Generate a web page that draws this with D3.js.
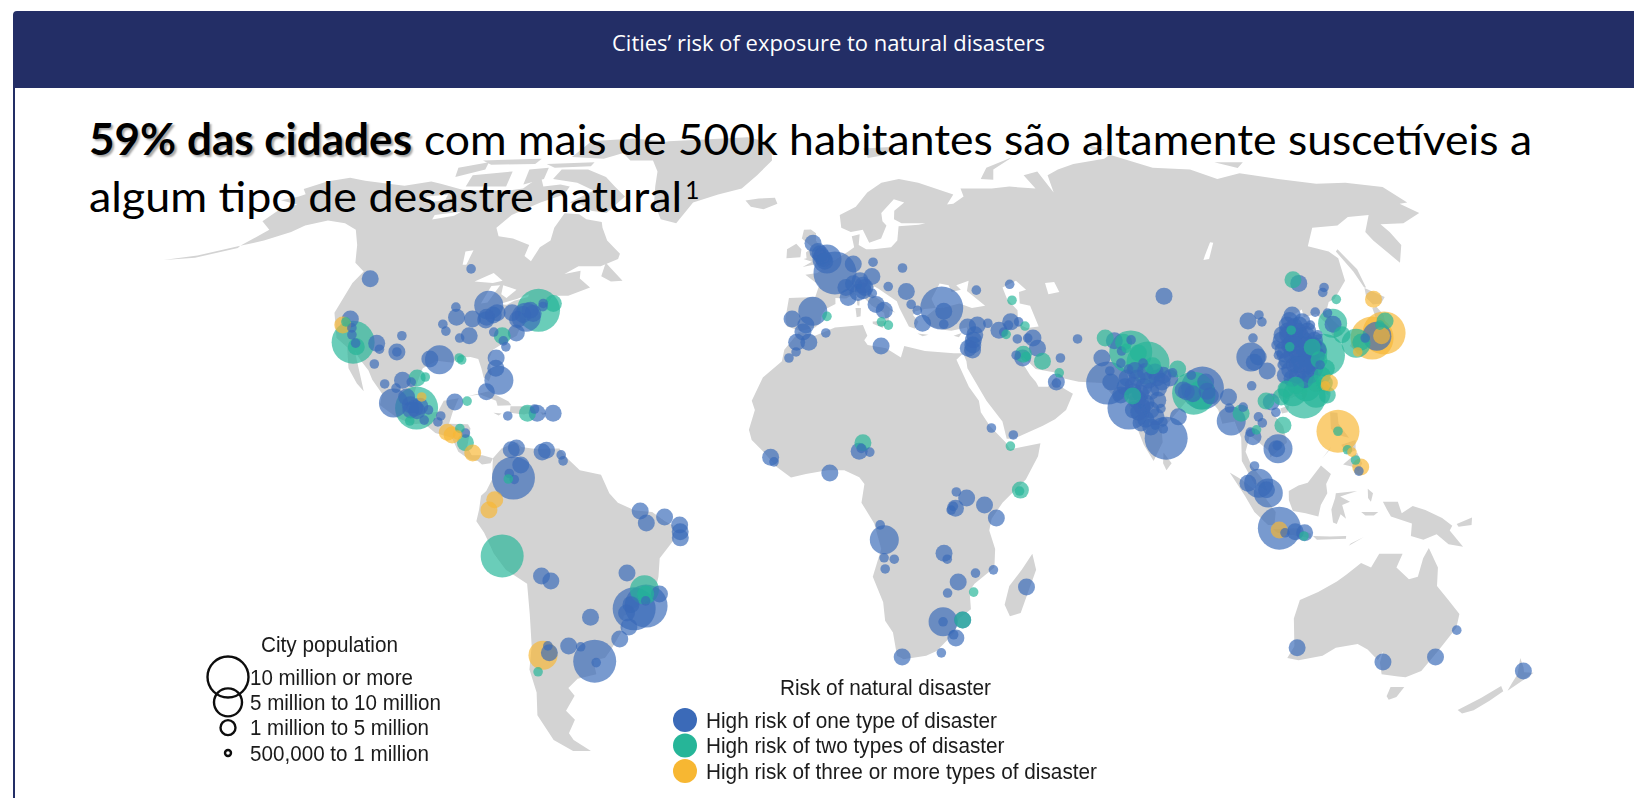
<!DOCTYPE html>
<html><head><meta charset="utf-8">
<script src="https://cdn.jsdelivr.net/npm/d3@7/dist/d3.min.js"></script>
<style>html,body{margin:0;padding:0;background:#fff;overflow:hidden}svg{display:block}</style>
</head><body><svg id="c" width="1634" height="798"></svg>
<script>
const chartTitle = "Cities’ risk of exposure to natural disasters";
const headlineBold = "59% das cidades";
const headlineRest = "com mais de 500k habitantes são altamente suscetíveis a";
const headlineLine2 = "algum tipo de desastre natural";
const sizeLegendTitle = "City population";
const sizeLabels = ["10 million or more","5 million to 10 million","1 million to 5 million","500,000 to 1 million"];
const riskLegendTitle = "Risk of natural disaster";
const riskLabels = ["High risk of one type of disaster","High risk of two types of disaster","High risk of three or more types of disaster"];

const robinsonLat = d3.range(0,95,5);
const robinsonLen = [1,.9986,.9954,.99,.9822,.973,.96,.9427,.9216,.8962,.8679,.835,.7986,.7597,.7186,.6732,.6213,.5722,.5322];
const robinsonDrop = [0,.062,.124,.186,.248,.31,.372,.434,.4958,.5571,.6176,.6769,.7346,.7903,.8435,.8936,.9394,.9761,1];

const land = [
 // North America
 [[-168,65.6],[-164,66.5],[-163,67.1],[-166,68.4],[-162,70.3],[-156.5,71.3],[-150,70.5],[-141,69.7],[-135,69.2],[-128,70.3],[-124,69.7],[-115,68.2],[-108,68],[-100,68],[-96,68.5],[-94,71.8],[-90,69],[-85,69.5],[-81.5,69],[-81.5,67],[-87,65],[-93,62],[-94.8,59],[-92.5,57],[-88,56.5],[-82.3,55],[-82,52.5],[-79.5,51.3],[-79,54.5],[-77,56],[-78,59],[-77.5,62.4],[-73,62.2],[-70,61],[-65,60.3],[-64,59],[-61,56],[-56,53],[-56,51.8],[-60,50.2],[-66,50.2],[-69,48.5],[-65,49.2],[-64.5,47.5],[-61,45.5],[-66,43.7],[-70,43.7],[-70.7,41.8],[-74,40.6],[-75.5,38],[-76,35],[-78,33.9],[-81,32],[-81.4,30],[-80,26.8],[-80.4,25.2],[-81.8,26],[-82.8,28],[-84,30],[-86,30.4],[-89,30.3],[-90,29.2],[-94,29.6],[-97,28],[-97.5,25],[-97.8,22.3],[-96,19],[-94.5,18.2],[-91.5,18.6],[-90.5,21],[-87,21.5],[-88,18.5],[-88.5,16],[-84,15.9],[-83.3,15],[-83.7,11],[-82.5,9.2],[-80,9.2],[-77.5,8.6],[-78,7.5],[-80,7.2],[-81,8],[-83,8.3],[-85.7,10],[-87.5,13],[-91.5,14],[-94.5,16.1],[-97,15.9],[-101,17.3],[-105.5,20],[-105.5,22.5],[-108.5,25.5],[-110,27.5],[-112.7,29.8],[-114.8,31.7],[-112,27],[-110,23],[-112,24.7],[-115,28],[-117,32.5],[-120.5,34.5],[-124,40],[-124,46.5],[-123,49],[-127,51],[-130.5,55],[-135,58.5],[-140,60],[-146,60.7],[-151,59.5],[-153,58],[-158,56],[-163,54.8],[-160,58.5],[-165,60.5],[-164.5,63],[-161,64.5]],
 [[-163,54.8],[-172,52.6],[-179.9,51.6],[-172,52.1],[-163,54.3]],
 // Greenland
 [[-73,78.2],[-67,80.5],[-60,82],[-45,82.7],[-30,83.5],[-20,81.5],[-18,76],[-22,72],[-26,68.5],[-33,67],[-40,65],[-43,60],[-48,61],[-52,65],[-54,69],[-56,73],[-60,76],[-68,76]],
 // Arctic Canada
 [[-80,73.5],[-72,71.5],[-67,69],[-62,66.5],[-65,62.5],[-70,63],[-74,64.5],[-78,65],[-73,68],[-80,70],[-89,71],[-89,73.5]],
 [[-117,72],[-105,73],[-102,69],[-115,69]],
 [[-125,74],[-117,75.5],[-115,73.5],[-122,71.5]],
 [[-90,77],[-78,76.5],[-62,82],[-75,83],[-90,82]],
 [[-96,75],[-80,75.5],[-80,74.4],[-92,74]],
 [[-120,76],[-100,76.5],[-100,75],[-115,74.8]],
 [[-100,73.5],[-94,74],[-92,71],[-97,69.5]],
 [[-59,51],[-53,47],[-56,46.8],[-59,48]],
 // South America
 [[-77.5,8.6],[-75.5,10.8],[-72,12],[-71,11],[-68,10.6],[-62,10.7],[-60,8.5],[-57,6],[-52,5],[-50,1],[-48,-1],[-44,-2.7],[-40,-3],[-37,-5],[-35,-6],[-35,-9],[-38.5,-13],[-39,-17],[-40.5,-21.5],[-44,-23],[-48,-25.5],[-48.7,-28.5],[-52,-32.5],[-54,-34.5],[-57,-35],[-57,-38],[-62,-39],[-65,-41],[-64,-42.7],[-67.5,-46],[-66,-48],[-69,-51],[-68.5,-52.5],[-65,-55],[-70,-55],[-74,-52.5],[-75.5,-47],[-73.5,-42],[-73.5,-37],[-71.5,-32],[-70.5,-25],[-70.3,-18.5],[-75,-15.5],[-77.5,-12],[-79.5,-7.5],[-81.2,-5],[-80.5,-2.5],[-80,.5],[-78.8,1.5],[-77.5,4],[-77.5,7]],
 // Caribbean
 [[-84.8,22],[-80,23],[-75,20.8],[-74.2,20],[-77.5,19.9],[-78,21],[-82,22.3]],
 [[-74.4,19.8],[-70,19.8],[-68.4,18.6],[-71,18],[-74.4,18.4]],
 [[-78.3,18.4],[-76.3,18.2],[-77,17.8]],
 [[-67.2,18.5],[-65.6,18.3],[-66.5,17.9]],
 // Africa
 [[-6,35.8],[-2,35],[3,36.8],[10,37.3],[11,35],[10.2,34],[11,33],[15.5,32.3],[19,30.3],[20,32.8],[25,31.7],[32,31.2],[34.3,31.2],[32.5,29.8],[35,24],[37.2,21],[37.5,18.5],[39.5,15.5],[43,12],[44,10.5],[51.2,11.8],[50.5,9],[47.5,4],[42,-1],[39.5,-4.5],[39,-7],[40.5,-11],[40.5,-15],[36,-18.5],[34.9,-20],[35.5,-24],[32.8,-26],[32,-29],[28,-33],[25.5,-34],[20,-34.8],[18.3,-34],[17,-29],[15,-26.5],[14.4,-22.5],[11.8,-17],[13.7,-11],[12,-5.5],[9,-1],[9.7,3],[8.5,4.5],[5,6],[1,6],[-4,5.2],[-7.5,4.4],[-11,6.8],[-14,10],[-16.8,12.5],[-17.5,14.7],[-16.2,19],[-17,21],[-14.5,26],[-10,29.5],[-9.5,32]],
 [[49.3,-12],[50.4,-15.5],[47.5,-24.8],[45,-25.5],[43.5,-23],[44.3,-19],[47,-15.5]],
 // Eurasia
 [[-9,37],[-9.5,38.7],[-8.8,43.2],[-2,43.4],[-1,46],[-4.7,48.3],[-1.5,48.7],[2,51],[4,52],[7,53.5],[8.7,54.5],[8.2,57],[10.5,57.5],[10,55],[12,54],[14,54],[19,54.5],[21,56],[22,59.3],[28,59.7],[30,60],[23,60],[21,61],[21.5,63],[25,65],[22,65.8],[17.5,62.5],[17.5,60.5],[18.5,59.5],[16.5,56.5],[13,55.5],[11.5,58.5],[8,58],[5.3,59],[5,62],[10,64],[14,67.5],[19,70],[25,71],[31,70],[41,67],[38,64.5],[35,64.3],[40,64.7],[44,66.5],[44,68.5],[54,68.5],[60,69],[68,68.5],[67,72],[72.5,73],[73,67.5],[75,72],[80,73.5],[87,75],[100,76.5],[104,77.7],[113,74],[125,73.5],[130,71],[140,72.5],[150,71],[160,69.7],[170,70],[179.9,68.9],[179.9,65],[177,64.7],[179,62.5],[170,60],[163,59.8],[163,58],[162,55],[156.7,51],[155.5,56],[156,58],[163,62],[156,61.5],[150,59.5],[142,59],[135.5,54.7],[140,53.5],[141,52],[138,47],[132,43],[130,42.3],[127.5,39.8],[129.4,37],[129,35.2],[126.5,34.5],[126.5,37.5],[125,39.7],[121.5,39],[122,40.7],[118,39],[119,37.3],[122.5,37],[119.3,35],[121.8,31.5],[122,29],[119.5,25.5],[116,22.9],[111,21.3],[108,21.7],[106,19.5],[108.8,15.5],[109.3,12],[105,8.7],[105,10],[102,12.5],[100.7,13.5],[99.3,10],[100.5,7],[103.4,3.5],[104,1.4],[101,3],[98.3,8],[98.6,13],[97.5,16.5],[94.5,16],[94,19],[91.5,22.5],[89,21.7],[86.8,21],[82,16.5],[80,15],[80,12],[77.6,8],[75.5,11.5],[73,19],[72.6,21.5],[70,21],[69,22.5],[67,24.8],[61.5,25.1],[57,26],[56.4,27],[51.5,27.8],[49,30.3],[48,30],[50,26.5],[51.2,25],[51.7,24],[54,24],[56.3,26.2],[56.5,24.3],[59.8,22.5],[57.8,19],[55,17],[52,15.6],[45,12.8],[43.3,12.8],[42.5,16.5],[39,21],[35,28],[34.9,29.5],[34.3,31.2],[35.9,35],[36,36.8],[32,36.1],[30,36.3],[27,37],[26.3,39.3],[29,41],[31,41.1],[35,42],[38,41],[41.5,41.5],[37.5,44.7],[38.5,47],[35,46],[36,45],[33.5,44.5],[33,46],[30.7,46.4],[28,43],[28.8,41],[26,40.8],[23.5,40.3],[22.8,39.5],[24,38],[23,36.5],[21.5,37],[19.5,41],[19,42.5],[14.5,45.2],[13.5,45.7],[12.3,45],[12.7,44],[16,41.9],[18.4,40],[17,40.5],[16.5,38],[15.8,38],[15.5,40],[12.5,41.5],[10.3,43.5],[8.8,44.4],[6,43.1],[3.2,43.2],[3.2,41.9],[.7,40.8],[-.3,39.5],[-.7,37.7],[-2,36.8],[-5.5,36]],
 // Islands of Europe
 [[-5.5,50],[1.3,51.2],[1.7,52.7],[0,53.5],[-2,56],[-2,57.7],[-3.5,58.6],[-5.5,58.5],[-6,56.5],[-3,54.5],[-4.7,53.3],[-4.5,52],[-5.3,51.8],[-3,51.2]],
 [[-10,52],[-6.2,52.2],[-6,54],[-7.5,55.3],[-10,54]],
 [[-24,65.5],[-22,64],[-18,63.4],[-14,64.7],[-15,66.2],[-20,66]],
 [[12.5,38.1],[15.5,38.2],[15,36.7],[12.5,37.6]],
 [[8.3,41],[9.7,41],[9.5,39.2],[8.5,39]],
 [[8.7,43],[9.5,43],[9.3,41.5],[8.8,41.6]],
 [[23.5,35.5],[26.2,35.2],[24.7,34.9]],
 [[32.4,35],[34.5,35.6],[33.7,34.7]],
 [[15,79.5],[27,80],[22,77.5],[16,76.7]],
 [[52,71],[56,74],[68,77],[58,73.5],[56,70.8]],
 [[100,79],[105,79],[100,81]],
 [[137,75.5],[147,75.5],[142,73.9]],
 // Asia islands
 [[141.7,45.5],[142.2,45.5],[143.5,49.5],[143,54],[142,53.5],[142,49]],
 [[140.4,43.2],[141.7,45.4],[145.3,43.4],[143.2,42],[141,41.8]],
 [[140.2,41],[141.5,41.3],[142,39.5],[141,37],[140.8,35.7],[139,34.9],[136.8,34.5],[135.5,33.6],[132.5,33.5],[131,31.2],[129.7,32.8],[131,34],[133,35.5],[136,35.8],[137.5,37],[139.5,38.5]],
 [[121,25.2],[122,25],[120.8,22],[120.1,23]],
 [[108.8,19.3],[111,20],[110.4,18.5],[109,18.2]],
 [[120.5,18.5],[122.2,18.4],[122,16],[124,13],[121,13.7],[120,15]],
 [[122,11.5],[125.5,12.5],[125.2,10.3],[123,9.5]],
 [[122,7.2],[125.5,9.8],[126.5,7.5],[125.5,5.7],[124,6.8]],
 [[117.2,8.5],[119.5,11],[119,10.3]],
 [[80,9.8],[81.8,7.5],[80.5,6],[79.8,7.5]],
 [[95.3,5.5],[98,4],[103.5,0],[106,-3],[105.8,-5.8],[104.3,-5.8],[101,-3],[98.7,.5]],
 [[105.5,-6.7],[108.5,-6.6],[111,-6.5],[114.5,-7.7],[114.5,-8.7],[110,-8],[106.5,-7.5]],
 [[115,-8.2],[119,-8.3],[122.8,-8.2],[122.8,-8.8],[116,-9]],
 [[124,-9.8],[127,-8.4],[123.6,-10.3]],
 [[109,1.5],[111.3,2.7],[113.5,3.3],[116.8,7],[119,5.2],[117.8,3],[118,1],[116.5,-1.5],[116,-4],[113,-3.3],[110,-2.8],[109,-.5]],
 [[120,1],[125,1.5],[121,.3],[123.3,-.8],[121.5,-1.5],[122.5,-4.5],[121.2,-3.5],[120.4,-5.6],[119.5,-5.3],[119,-2.5],[119.8,0]],
 [[127.5,2],[128.7,1],[128.2,-.8],[127.5,0]],
 [[126,-3],[130,-3],[129,-3.8],[127,-3.8]],
 [[131,-.8],[134.5,-.8],[135.5,-3.3],[138,-1.7],[141,-2.6],[145,-4.3],[147.5,-6],[147,-7],[150.5,-10.5],[147,-10],[144,-7.8],[141,-9],[138,-8.2],[138,-5.5],[133,-4],[132,-2.5]],
 [[148.5,-5.6],[152,-4.2],[152,-5.8],[149,-6.2]],
 // Oceania
 [[114,-22],[113.5,-26],[115.7,-32],[115,-34.5],[118,-35],[123.5,-34],[126,-32.3],[131,-31.5],[134,-32.7],[137.7,-35],[138,-33],[138.5,-35.5],[140.5,-38],[145,-38.5],[147,-38.7],[150,-37.3],[151.5,-33],[153.5,-28],[153,-25],[149.5,-22],[146,-19],[145.3,-15],[142.5,-10.8],[141.5,-13],[141,-17],[139,-17.5],[135.5,-15],[136.5,-12],[131,-12],[129.5,-15],[127,-14],[124,-16.5],[122,-18],[118,-20.3]],
 [[144.7,-40.8],[148.2,-40.8],[148,-43],[146.5,-43.6],[145.3,-42.8]],
 [[172.7,-34.5],[175,-36.5],[176,-37.6],[178.5,-37.7],[177,-39.5],[175.3,-41.6],[174.8,-39.8],[174.7,-38]],
 [[172.7,-40.6],[174.3,-41.7],[172.8,-43.8],[170.8,-45.9],[168.5,-46.6],[166.5,-45.8],[170,-43.2]]
];
const water = [
 [[47,45.5],[51,47],[53,45],[51,44.5],[50.5,42],[53,41.5],[54,37],[51,36.7],[49,37.5],[49.5,40.5],[47.5,43]],
 [[58.5,46.5],[61,46.7],[61.5,44.5],[58.5,44]],
 [[103.8,51.6],[105.5,51.8],[109.8,55.5],[109,55.6],[105,52.6]],
 [[-92,46.8],[-88,48.7],[-84.7,47],[-87,46.5]],
 [[-87.8,42],[-87,45.8],[-84.8,46],[-86.2,42.2]],
 [[-84,46],[-80,45],[-81.8,43.2],[-83.5,44]],
 [[-83.3,41.8],[-79,43],[-76.3,44],[-76.3,43.4],[-79.5,42.6],[-81,41.7]],
 [[-124,66.5],[-118,67],[-117,65.5],[-123,65]],
 [[-116,62],[-109,62.8],[-110,61.8],[-115.5,60.9]],
 [[-99,53.5],[-97,53.8],[-96.5,50.5],[-97.5,50.5]]
];

// [longitude, latitude, population class 0..3]
const citiesHighOne = [
 [-120,47.4,1],[-94.6,49.6,0],[-85.6,41.6,2],[-93.8,41.2,0],[-92.6,39,1],[-95.4,37.5,0],[-94,36,0],[-88.4,38.6,1],[-87.8,35,1],[-90,34.5,0],[-83.5,39.5,1],[-82.7,40,1],[-85,39,1],[-85,38.4,1],[-82,35.8,0],[-79,33.9,0],[-78,32.6,0],[-76.3,35.6,1],[-75,39,2],[-78.9,40,1],[-77,38.5,1],[-76,39.6,1],[-74.5,40.5,1],[-73.5,39.8,1],[-71.8,42,0],[-71.6,41.3,0],
 [-115.3,33.4,0],[-119.2,38.6,1],[-117.8,36.7,0],[-117,35.2,0],[-110.1,33.4,1],[-108.9,32.1,0],[-104.5,35,0],[-104.4,31.5,1],[-104.4,31.5,0],[-109,28.9,0],[-93.4,29.8,2],[-95.8,30,1],[-79.7,30.2,1],[-79.3,28,1],[-78,25.4,2],[-80.6,22.9,1],[-87.8,20.7,1],[-74.8,17.7,0],[-67.9,18.3,1],[-68.6,19.2,0],[-64.1,18.3,1],
 [-101.2,25.4,1],[-99,25,0],[-105.3,24.6,0],[-102.4,23.7,0],[-102.4,20.5,2],[-99.5,21.8,1],[-97.1,19.4,1],[-96,19.8,1],[-98,19,1],[-98.3,20.1,1],[-96.5,18.8,1],[-94.5,16.8,0],[-93.8,19,0],[-90.7,17.7,0],[-91.2,16.4,0],[-84.4,14,0],
 [-73.3,10.4,1],[-72.1,10.8,1],[-66,9.9,1],[-65,10.3,1],[-61.5,9.3,0],[-61,8,0],[-72.5,4.3,3],[-70.9,7.1,1],[-73.5,5.3,0],[-72.3,4,0],
 [-66.7,-16.8,1],[-64.6,-17.9,1],[-42.8,-2.8,1],[-41.4,-5.4,1],[-37.1,-4.1,1],[-33.6,-5.8,1],[-33.5,-7.3,1],[-33.5,-8.6,1],[-46.4,-16.2,1],[-39,-20.7,1],[-45.3,-23.9,3],[-42.4,-23.3,3],[-46,-23,1],[-47.2,-24.8,1],[-47,-27.8,1],[-42.4,-22.2,0],[-56,-25.7,1],[-49.6,-30.4,1],[-62.4,-31.9,1],[-56.7,-35.2,3],[-59.5,-32.1,0],[-56.4,-35.5,0],[-67.5,-33.4,1],[-67.5,-31.9,0],
 [-2.8,55.4,1],[-1.4,53.5,1],[-.8,53,1],[-.3,52.4,1],[.2,51.9,1],[.5,51.3,1],[1.1,51.8,2],[3.2,48.7,3],[8.2,50.7,1],[13.6,51.1,0],[9.8,47,1],[8,46.3,1],[10.5,46,1],[10.5,44.8,1],[13,47.9,1],[21.4,49.8,0],[17.1,45.7,0],[21.7,44.6,1],[22.6,41.8,0],[24,40.5,0],[30.3,41,3],[30.7,40.3,1],[30.3,37.5,0],[25,37.7,1],[40,44.9,0],[49.1,46.2,0],[6,45.5,1],[6.5,43.3,1],[9.1,44.4,1],[11,45.5,1],[12.8,44.2,0],[13.6,41.8,1],[15.6,40.5,1],[14.3,32.8,1],[.7,35.6,0],[-2.6,40.3,2],[-7.8,38.6,1],[-4.3,37.3,1],[-5,35.8,1],[-3.5,33.6,1],[-6.5,33.6,1],[-6.6,31.5,0],[-8.3,30.2,0],
 [36.2,36.9,1],[38.7,37.3,1],[37.7,35.2,1],[37.2,34.1,1],[36.9,33,1],[35.7,32.3,1],[36.7,31.9,1],[41.4,37.7,0],[43.9,36.2,1],[45,35.8,0],[47.2,38,1],[46.5,37.3,0],[49.2,38,0],[48.1,34.3,0],[52,34.5,1],[50.7,34.5,0],[52.7,32.3,1],[48.7,30.2,1],[47.2,30.8,0],[57.9,30.2,0],[56.1,25,1],[56.1,24.8,0],
 [63,34.3,0],[72,33.9,1],[76.2,34.1,0],[73.2,31.7,0],[72.4,29.1,0],[77.8,29.1,0],[74,27.8,0],[88.9,26.5,0],[68,30.2,1],[68.4,24.8,3],[69.2,25,1],[69.4,27.4,0],[72.8,19.4,3],[80.9,12.9,3],[78.6,15.7,0],[80.5,16.4,0],[84.3,17.5,1],[80.4,14.9,0],[75.3,16.2,1],[76.5,17,1],[71.2,22.2,1],[76,22.6,1],[77,20.5,1],[79.9,21.1,1],[80.5,23.7,1],[78.3,25.4,1],[75.7,25.9,1],[73.3,25.9,1],[82.1,26.5,1],[83.6,25.9,1],[80.5,25.9,1],[74.3,22.9,1],[73.8,19,1],[76,19.6,1],[86.3,23.3,1],[72.5,24,1],[74.5,24.3,1],[77,24,1],[78.5,23,1],[75,21,1],[78,19,1],[75,18.5,1],[80.4,19.3,0],[79,17.5,1],[77.5,15.3,1],[75.5,27.5,1],[78,27.3,1],[80.3,27.2,1],[81.5,25,1],[84.5,27,0],[91,23.7,3],[92,25,1],[92,23,1],[92.6,22,1],[87,22.9,1],[88.5,22.5,1],[96.9,21.8,1],[96.7,19.4,0],[96.7,16.6,2],[100,19.6,0],[102.9,24.2,0],[103.3,17.5,0],[104,16.2,0],[101.4,13.2,1],[100.9,14.2,0],[107,10.6,2],[106.7,10.6,1],[106.9,11.3,0],[101.2,6.9,0],[99.5,3.2,1],[102,3.2,2],[104.2,1.1,2],[103.8,1.8,1],
 [88.3,43.6,1],[125.3,46.4,1],[131.2,45.5,0],[130,44.4,0],[107,38.2,1],[110.4,39.5,0],[110.4,38,0],[106.5,34.5,0],[104.4,30.4,2],[106.2,30.4,1],[104.9,29.3,1],[107.5,27.4,1],[118.8,39.5,1],
 [116.4,37.3,1],[119.4,37.3,1],[122.2,37.3,0],[114,35.2,1],[117,35.2,1],[120,35.2,1],[122.9,35.2,0],[111.6,33,0],[114.8,33,1],[117.8,33,1],[120.7,33,1],[111.3,30.8,0],[114.5,30.8,1],[117.6,30.8,1],[120.6,30.8,1],[111.5,28.7,0],[114.4,28.7,1],[117.6,28.7,1],[120.7,28.7,0],[111.6,26.5,1],[114.5,26.5,1],[117.6,26.5,1],[115.8,36,1],[118.4,36,1],[120.8,36,1],[113.3,34,1],[116.3,34,1],[119,34,1],[121.5,34,1],[112.9,31.9,1],[116,31.9,1],[119,31.9,1],[121.5,32,1],[113,29.7,1],[116,29.7,1],[119,29.7,1],[113,27.6,1],[116,27.6,1],[119,27.6,1],[117.5,38.3,1],[120.5,38,1],[115.4,35.2,1],[118.5,35,1],[115.2,33,1],[116.3,33,1],[119.2,33,1],[113,31,1],[116,30.8,1],[119,30.7,1],[115.2,28.7,1],[116.2,28.7,1],[118.5,28.5,1],[113,25.8,1],[116,25.5,1],[118,37,1],
 [128,37.5,1],[128,39.9,0],[125,40.1,0],[134.3,34.5,0],[137.4,34.9,2],[106.9,20.7,1],[107.6,18.5,0],[125.6,5.8,0],
 [107,-6.5,3],[110.8,-7.3,1],[113,-7.5,1],[108.4,-7.5,0],
 [-12.3,8.8,1],[-11.5,7.8,0],[8.5,10.1,1],[9,10.7,0],[11,9.9,0],[1.6,5.4,1],[39.8,15.1,0],[44.9,13.6,0],[31.2,1.3,0],[33.6,0,1],[31,-2.2,1],[30,-2.6,0],[30.5,-1.8,0],[37.8,-1.5,1],[40.6,-4.3,1],[13.4,-5.8,0],[14.4,-9,2],[14.4,-12.9,0],[16.8,-13.2,0],[14.7,-15.3,0],[28.5,-11.9,1],[29.3,-13.2,0],[36.1,-16.2,0],[40.3,-15.5,0],[32.1,-18.1,1],[29.7,-20.5,0],[48.4,-19.2,1],[29,-26.7,2],[29,-26.7,0],[33.7,-26.3,1],[32.4,-30.2,1],[31.8,-29.5,0],[29.2,-33.4,0],[19.6,-34.3,1],
 [116.5,-32.3,1],[139.2,-35.4,1],[151.6,-34.3,1],[153.8,-28.5,0],[175.6,-37.3,1]
];
const citiesHighTwo = [
 [-79.6,35,1],[-72.4,40.5,3],[-69.2,42,1],[-116,33.6,3],[-114.8,32.6,1],[-120,38,0],[-88.7,30.2,0],[-88,29.8,0],[-84.9,20.9,0],[-70.2,18.3,1],[-97.8,25.9,1],[-95.9,26.1,0],[-96.7,19.4,3],[-97.9,16.6,0],[-85.8,15,0],[-84.2,11.9,1],[-73.7,4.1,0],[-75.6,-12.5,3],[-42.5,-19.8,2],[-42.3,-20.7,1],[-71.5,-37.5,0],
 [1,39.2,0],[14.7,38,0],[16.4,37.3,0],[48.7,42.7,0],[45.5,35.3,0],[50.6,37.1,0],[49,31,1],[49.5,30.5,0],[53.4,29.5,1],[57.1,27,0],
 [69.9,34.5,1],[74.2,33.6,1],[75.4,31.5,3],[79,29.1,3],[77.2,31.3,1],[74.5,32.3,0],[80,28.5,1],[85.9,27.8,1],[88.7,22.6,3],[90.4,22.2,2],[74,22,1],[99.3,18.3,1],[102.4,14.7,0],[108.8,15.7,1],[105.7,20.9,1],
 [124.4,47.2,1],[132.4,42.9,0],[128,37.7,2],[128.9,35.2,1],[131.5,33.4,2],[132.8,33.6,1],[141.5,38.2,1],[139.6,37.3,0],[122.3,30.8,3],[120,31.5,2],[115,21.8,3],[112.5,22.9,2],[118,22.6,2],[116,24,2],[113.5,24.3,1],[111,23.5,1],[118.5,24.7,1],[120.5,26.5,1],[120.8,29.8,1],[122,28,1],[120.3,32.5,1],[120.5,24.8,1],[120.6,22.2,1],[109.5,21.8,1],[116.8,36.2,0],[114.8,32.6,0],[121.6,14.4,0],[123.3,10.4,0],[125,8.2,0],[112.9,-8.2,0],
 [9.4,11.9,1],[44.1,11.2,0],[46.2,1.7,1],[46,1.5,0],[35.9,-20.3,0],[33.7,-26.3,1]
];
const citiesHighThree = [
 [-120.4,37.3,1],[-95.9,21.8,0],[-88.7,14.2,1],[-87.5,13.6,1],[-86.2,13.6,0],[-82.3,9.7,1],[-76.8,-.4,1],[-78.2,-2.6,1],[-69.2,-33.9,2],
 [142,42.9,1],[131,31.5,0],[139.6,35.6,3],[136,34.5,3],[138.6,35,1],[121.7,24.8,1],[120.6,24.2,0],[121.6,14.4,3],[124.3,9.9,0],[126.1,6.7,1],[107,-6.9,1]
];

const radiusByClass = d3.scaleOrdinal().domain([0,1,2,3]).range([4.8,8.5,14.5,21.5]);
const riskColour = d3.scaleOrdinal().domain([1,2,3]).range(["#3a6ab8","#25b598","#f7b733"]);

const lenAt = d3.scaleLinear().domain(robinsonLat).range(robinsonLen);
const dropAt = d3.scaleLinear().domain(robinsonLat).range(robinsonDrop);
function robinsonRaw(lam, phi){
  const deg = Math.abs(phi)*180/Math.PI;
  return [0.8487*lenAt(deg)*lam, 0.958*1.3523*dropAt(deg)*(phi<0?-1:1)];
}
const projection = d3.geoProjection(robinsonRaw).scale(288.6).translate([823,498]);
const toLine = d3.line().x(d=>projection(d)[0]).y(d=>projection(d)[1]).curve(d3.curveLinearClosed);

const svg = d3.select("#c");
const defs = svg.append("defs");
defs.append("filter").attr("id","soft").attr("x","-5%").attr("y","-5%").attr("width","110%").attr("height","110%")
  .append("feGaussianBlur").attr("stdDeviation",0.7);
defs.append("filter").attr("id","softText").append("feGaussianBlur").attr("stdDeviation",0.3);

const map = svg.append("g").attr("filter","url(#soft)");
map.append("g").selectAll("path").data(land).join("path").attr("d",toLine).attr("fill","#d3d3d3");
map.append("g").selectAll("path").data(water).join("path").attr("d",toLine).attr("fill","#fff");

const cities = [
  ...citiesHighOne.map(c=>({lon:c[0],lat:c[1],size:c[2],risk:1})),
  ...citiesHighTwo.map(c=>({lon:c[0],lat:c[1],size:c[2],risk:2})),
  ...citiesHighThree.map(c=>({lon:c[0],lat:c[1],size:c[2],risk:3}))
].sort((a,b)=>d3.descending(a.size,b.size));
map.append("g").selectAll("circle").data(cities).join("circle")
  .attr("cx",d=>projection([d.lon,d.lat])[0])
  .attr("cy",d=>projection([d.lon,d.lat])[1])
  .attr("r",d=>radiusByClass(d.size))
  .attr("fill",d=>riskColour(d.risk))
  .attr("fill-opacity",0.68);

// header
svg.append("path").attr("d","M13 798V15Q13 11 17 11H1634V88H15V798Z").attr("fill","#232e66");
svg.append("text").attr("x",612).attr("y",51).attr("textLength",433).attr("lengthAdjust","spacingAndGlyphs")
  .attr("font-family","Open Sans").attr("font-size",22).attr("font-weight",500).attr("fill","#fff").text(chartTitle);

// headline
const hl = svg.append("g").attr("font-family","Lato").attr("font-size",43).attr("fill","#000");
hl.append("text").attr("x",89).attr("y",155).attr("textLength",323).attr("lengthAdjust","spacingAndGlyphs")
  .attr("font-weight",700).style("text-shadow","2px 2px 2px rgba(0,0,0,.35)").text(headlineBold);
hl.append("text").attr("x",424).attr("y",155).attr("textLength",1108).attr("lengthAdjust","spacingAndGlyphs").text(headlineRest);
hl.append("text").attr("x",89).attr("y",212).attr("textLength",593).attr("lengthAdjust","spacingAndGlyphs").text(headlineLine2);
hl.append("text").attr("x",685).attr("y",199).attr("font-size",25).text("1");

// legends
const legend = svg.append("g").attr("font-family","Liberation Sans").attr("fill","#1a1a1a").attr("filter","url(#softText)");
legend.append("text").attr("x",261).attr("y",652).attr("font-size",22).attr("textLength",137).attr("lengthAdjust","spacingAndGlyphs").text(sizeLegendTitle);
const sizeY = d3.scalePoint().domain(sizeLabels).range([677,753]);
const sizeLegendR = d3.scaleOrdinal().domain(sizeLabels).range([20.5,14,7.5,3]);
const sizeLen = d3.scaleOrdinal().domain(sizeLabels).range([163,191,179,179]);
legend.selectAll("circle.s").data(sizeLabels).join("circle").attr("class","s")
  .attr("cx",228).attr("cy",d=>sizeY(d)).attr("r",d=>sizeLegendR(d))
  .attr("fill","none").attr("stroke","#111").attr("stroke-width",2.4);
legend.selectAll("text.s").data(sizeLabels).join("text").attr("class","s")
  .attr("x",250).attr("y",d=>sizeY(d)+7.5).attr("font-size",22)
  .attr("textLength",d=>sizeLen(d)).attr("lengthAdjust","spacingAndGlyphs").text(d=>d);

legend.append("text").attr("x",780).attr("y",695).attr("font-size",22).attr("textLength",211).attr("lengthAdjust","spacingAndGlyphs").text(riskLegendTitle);
const riskY = d3.scalePoint().domain(riskLabels).range([720,771]);
const riskLen = d3.scaleOrdinal().domain(riskLabels).range([291,298.5,391]);
legend.selectAll("circle.r").data(riskLabels).join("circle").attr("class","r")
  .attr("cx",685).attr("cy",d=>riskY(d)).attr("r",12).attr("fill",(d,i)=>riskColour(i+1));
legend.selectAll("text.r").data(riskLabels).join("text").attr("class","r")
  .attr("x",706).attr("y",d=>riskY(d)+7.5).attr("font-size",22)
  .attr("textLength",d=>riskLen(d)).attr("lengthAdjust","spacingAndGlyphs").text(d=>d);
</script></body></html>
